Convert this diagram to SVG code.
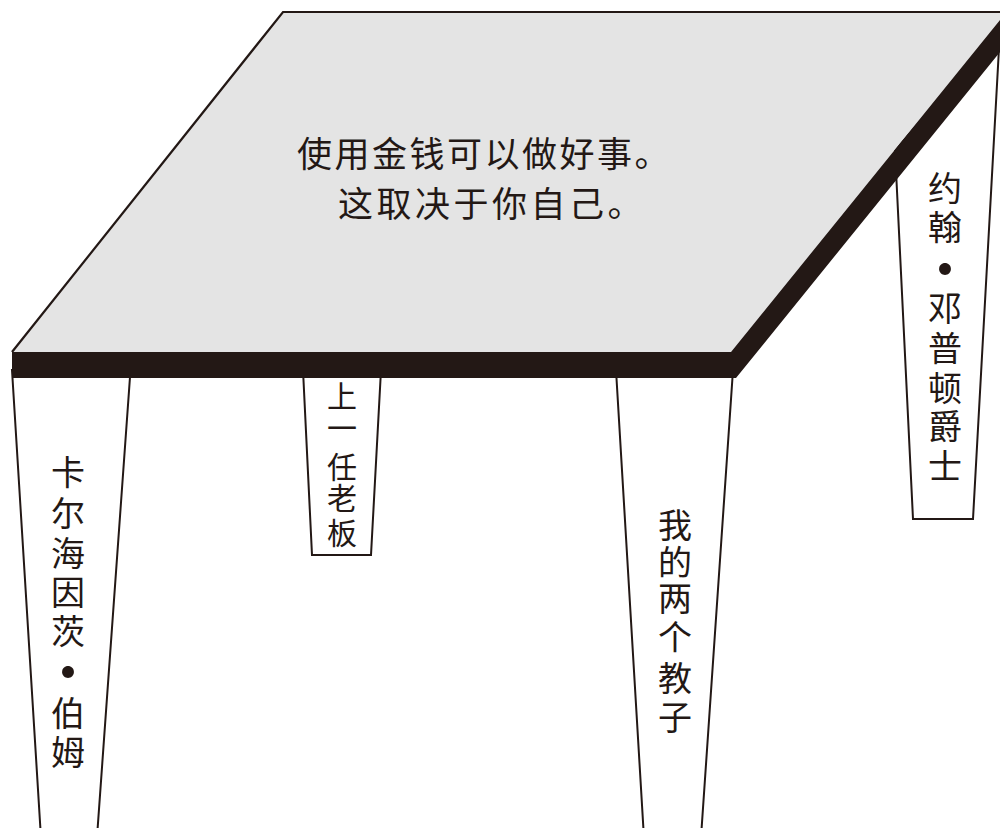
<svg xmlns="http://www.w3.org/2000/svg" width="1000" height="828" viewBox="0 0 1000 828">
<style>
.leg{fill:#ffffff;stroke:#231815;stroke-width:2;stroke-linejoin:miter}
.lbl{font-family:"Noto Sans CJK SC","Noto Sans",sans-serif;fill:#231815;text-anchor:middle}
.dot{font-size:56px}
.title{font-family:"Noto Sans CJK SC","Noto Sans",sans-serif;fill:#231815;font-size:35px}
</style>
<rect width="1000" height="828" fill="#ffffff"/>
<g id="leg-back-right">
<polygon class="leg" points="895,150 913,519 973,519 1000,30"/>
<text class="lbl" font-size="34"><tspan x="945" y="201">约</tspan><tspan x="945" y="240">翰</tspan><tspan class="dot" x="945" y="290">•</tspan><tspan x="945" y="321">邓</tspan><tspan x="945" y="361">普</tspan><tspan x="945" y="401">顿</tspan><tspan x="945" y="439">爵</tspan><tspan x="945" y="479">士</tspan></text>
</g>
<g id="leg-back-left">
<polygon class="leg" points="303,370 312,555 371,555 381,370"/>
<text class="lbl" font-size="30"><tspan x="342" y="407">上</tspan><tspan x="342" y="439">一</tspan><tspan x="342" y="478">任</tspan><tspan x="342" y="509">老</tspan><tspan x="342" y="544">板</tspan></text>
</g>
<g id="leg-front-left">
<polygon class="leg" points="12,370 40.5,830 97.5,830 130.5,370"/>
<text class="lbl" font-size="34"><tspan x="68" y="485">卡</tspan><tspan x="68" y="526">尔</tspan><tspan x="68" y="566">海</tspan><tspan x="68" y="605">因</tspan><tspan x="68" y="644">茨</tspan><tspan class="dot" x="68" y="693">•</tspan><tspan x="68" y="726">伯</tspan><tspan x="68" y="765">姆</tspan></text>
</g>
<g id="leg-front-right">
<polygon class="leg" points="616,370 643.5,830 701.5,830 733,370"/>
<text class="lbl" font-size="34"><tspan x="675" y="538">我</tspan><tspan x="675" y="575">的</tspan><tspan x="675" y="611">两</tspan><tspan x="675" y="650">个</tspan><tspan x="675" y="691">教</tspan><tspan x="675" y="730">子</tspan></text>
</g>
<g id="table-top">
<polygon points="283,12 1000,12 1000,20 731,352 12,352" fill="#e4e4e4"/>
<polyline points="12,352 283,12 1000,12" fill="none" stroke="#231815" stroke-width="2.2"/>
<polygon points="12,352 731,352 1000,20 1000,52 736,378 12,378" fill="#231815"/>
<text class="title" x="297" y="167" letter-spacing="2.5">使用金钱可以做好事。</text>
<text class="title" x="338" y="217" letter-spacing="3.5">这取决于你自己。</text>
</g>
<g id="connectors"></g>
</svg>
